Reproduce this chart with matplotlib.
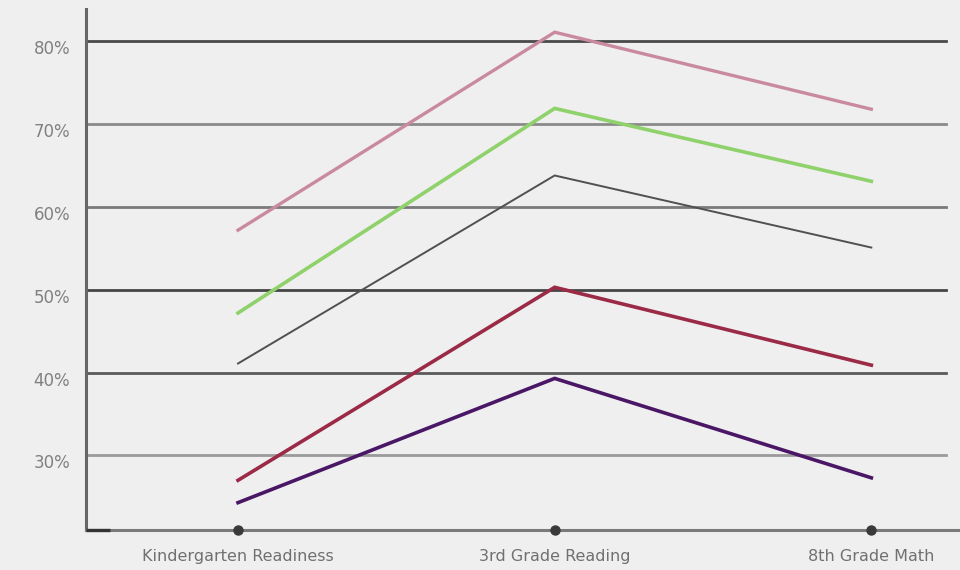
import matplotlib.pyplot as plt
import matplotlib.transforms as mtransforms

# scores by stage, in percent
stages = ["Kindergarten Readiness", "3rd Grade Reading", "8th Grade Math"]
pink_vals = [57.2, 81.1, 71.8]
green_vals = [47.2, 71.9, 63.1]
gray_vals = [41.1, 63.8, 55.1]
crimson_vals = [27.0, 50.3, 40.9]
purple_vals = [24.3, 39.3, 27.3]
grid_levels = [80, 70, 60, 50, 40, 30]
grid_labels = ["80%", "70%", "60%", "50%", "40%", "30%"]

bg = "#efefef"
fig = plt.figure(figsize=(9.6, 5.7), dpi=100, facecolor=bg)
ax = fig.add_axes([0.0896, 0.0702, 0.9104, 0.9140])
ax.set_facecolor(bg)
ax.set_xlim(-0.48, 2.28)
ax.set_ylim(21.0, 83.9)

# horizontal reference lines, each a slightly different gray
grid_colors = ["#4a4a4a", "#8a8a8a", "#7a7a7a", "#454545", "#5a5a5a", "#9a9a9a"]
for lvl, col in zip(grid_levels, grid_colors):
    ax.axhline(lvl, xmin=0, xmax=0.984, color=col, lw=2.0, zorder=1)

x = list(range(len(stages)))
ax.plot(x, pink_vals, color="#c98a9e", lw=2.4, zorder=3, solid_joinstyle="miter")
ax.plot(x, green_vals, color="#8fd16a", lw=2.6, zorder=3, solid_joinstyle="miter")
ax.plot(x, gray_vals, color="#505050", lw=1.4, zorder=3, solid_joinstyle="miter")
ax.plot(x, crimson_vals, color="#9b2a46", lw=2.6, zorder=3, solid_joinstyle="miter")
ax.plot(x, purple_vals, color="#4a1666", lw=2.6, zorder=3, solid_joinstyle="miter")

# axes frame
for side in ["top", "right"]:
    ax.spines[side].set_visible(False)
ax.spines["left"].set_color("#666666")
ax.spines["left"].set_linewidth(2.2)
ax.spines["bottom"].set_color("#7a7a7a")
ax.spines["bottom"].set_linewidth(2.2)
ax.plot([-0.48, -0.405], [21.0, 21.0], color="#333333", lw=2.4,
        clip_on=False, zorder=5, solid_capstyle="butt")

# category markers sitting on the bottom axis
ax.plot(x, [21.0] * len(x), "o", color="#3a3a3a", ms=6.5, clip_on=False, zorder=6)

ax.set_xticks([])
ax.set_yticks([])

# y labels sit a little below their lines
shift = mtransforms.ScaledTranslation(0, -0.08, fig.dpi_scale_trans)
trans = mtransforms.blended_transform_factory(ax.transAxes, ax.transData) + shift
for lvl, lab in zip(grid_levels, grid_labels):
    ax.text(-0.018, lvl, lab, transform=trans, ha="right", va="center",
            fontsize=12, color="#808080", family="DejaVu Sans")

for xi, name in zip(x, stages):
    ax.text(xi, 21.0, name, transform=ax.transData + mtransforms.ScaledTranslation(
        0, -0.27, fig.dpi_scale_trans), ha="center", va="center",
        fontsize=11.5, color="#707070", family="DejaVu Sans")

fig.savefig("out.png", dpi=100, facecolor=bg)
